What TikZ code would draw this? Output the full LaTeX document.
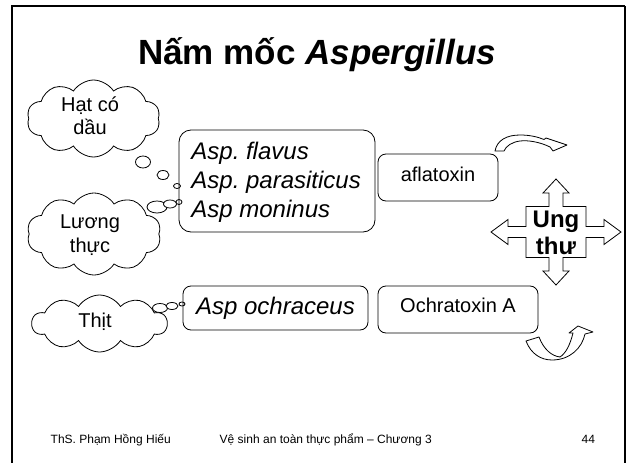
\documentclass[tikz,border=0pt]{standalone}
\usepackage{fontspec}
\setmainfont{Liberation Sans}
\frenchspacing
\usetikzlibrary{shapes.symbols,shapes.geometric}
\begin{document}
\begin{tikzpicture}[x=1pt,y=-1pt,line width=0.8pt,
  puff/.style={cloud, cloud puffs=10, cloud puff arc=115, cloud ignores aspect,
    draw, fill=white, inner sep=0pt, align=center,
    font=\fontsize{20}{23}\selectfont},
  bubble/.style={ellipse, draw, fill=white, inner sep=0pt},
  roundbox/.style={draw, rounded corners=8pt, inner sep=0pt, align=center},
  boxtext/.style={font=\fontsize{20}{24}\selectfont},
  species/.style={font=\fontsize{24}{29}\selectfont\itshape},
  footer/.style={anchor=base west, font=\fontsize{12}{14}\selectfont},
  bent/.style={draw, fill=white, line join=round}]
\useasboundingbox (0,0) rectangle (627,463);

% slide frame
\draw[line width=2.2pt] (12,470) -- (12,6) -- (625,6);
\draw[line width=1.6pt] (625,6) -- (625,470);

% title
\node[anchor=base, font=\fontsize{35}{40}\selectfont\bfseries] (title) at (317,64)
  {Nấm mốc \textit{Aspergillus}};

% food sources
\node[puff, minimum width=133, minimum height=77] (seed) at (93.5,118.5) {};
\node[align=center, font=\fontsize{20}{23}\selectfont] (seedtxt) at (90,116) {Hạt có\\dầu};
\node[puff, minimum width=134, minimum height=82] (grain) at (94,234) {};
\node[align=center, font=\fontsize{20}{24}\selectfont] (graintxt) at (90,235) {Lương\\thực};
\node[puff, minimum width=135, minimum height=57] (meat) at (99.5,323.5) {};
\node[boxtext] (meattxt) at (95,322) {Thịt};

% thought bubbles towards the moulds
\node[bubble, minimum width=15, minimum height=12] (s1) at (143,162) {};
\node[bubble, minimum width=12, minimum height=9] (s2) at (163,175) {};
\node[bubble, minimum width=7, minimum height=5] (s3) at (177,186) {};
\node[bubble, minimum width=20, minimum height=12] (g1) at (157,207) {};
\node[bubble, minimum width=13, minimum height=8] (g2) at (170,204) {};
\node[bubble, minimum width=6, minimum height=5] (g3) at (179,202) {};
\node[bubble, minimum width=15, minimum height=9] (m1) at (160,308) {};
\node[bubble, minimum width=12, minimum height=7] (m2) at (172,306) {};
\node[bubble, minimum width=6, minimum height=4] (m3) at (182,304) {};

% moulds and toxins
\node[roundbox, rounded corners=12pt, minimum width=196, minimum height=102] (asp) at (277,181) {};
\node[anchor=west, align=left, species, inner sep=0pt] (asptxt) at (191,182)
  {Asp. flavus\\Asp. parasiticus\\Asp moninus};
\node[roundbox, minimum width=120, minimum height=47, boxtext, text depth=7pt]
  (afla) at (438,177.5) {aflatoxin};
\node[roundbox, minimum width=185, minimum height=44, species] (ochr) at (275.5,308)
  {Asp ochraceus};
\node[roundbox, minimum width=160, minimum height=47, boxtext, text depth=9pt]
  (ochra) at (458,309.5) {Ochratoxin A};

% four-way arrow around the outcome
\draw[bent, line join=miter] (526,206.5) -- (549,206.5) -- (549,193) -- (543,193) -- (556,179)
  -- (569,193) -- (563,193) -- (563,206.5) -- (586,206.5) -- (586,226.5)
  -- (604,226.5) -- (604,219.5) -- (621,232) -- (604,244.5) -- (604,237.5)
  -- (586,237.5) -- (586,257.5) -- (563,257.5) -- (563,271) -- (569,271)
  -- (556,285) -- (543,271) -- (549,271) -- (549,257.5) -- (526,257.5)
  -- (526,237.5) -- (508,237.5) -- (508,244.5) -- (491,232) -- (508,219.5)
  -- (508,226.5) -- (526,226.5) -- cycle;
\node[align=center, font=\fontsize{24}{27}\selectfont\bfseries] (cancer) at (556,233)
  {Ung\\thư};

% curved arrows
\draw[bent] (495,151) .. controls (497,140) and (507,135) .. (520,135)
  .. controls (530,135) and (538,137) .. (544,139.5) -- (546,138) -- (567,145)
  -- (553,151) -- (550,147) .. controls (540,142) and (528,140) .. (520,141)
  .. controls (512,142) and (506,146) .. (504,151) -- cycle;
\draw[bent] (526,341) .. controls (531,354) and (541,360) .. (552,360)
  .. controls (570,360) and (582,348) .. (585,334) -- (593,332) -- (578,326)
  -- (569,333) -- (573,333) .. controls (570,345) and (566,353) .. (560,357)
  .. controls (552,356) and (544,350) .. (539,337) -- cycle;

% footer
\node[footer] (author) at (47,443) {ThS. Phạm Hồng Hiếu};
\node[footer] (course) at (216,443) {Vệ sinh an toàn thực phẩm – Chương 3};
\node[footer] (page) at (578,443) {44};
\end{tikzpicture}
\end{document}
